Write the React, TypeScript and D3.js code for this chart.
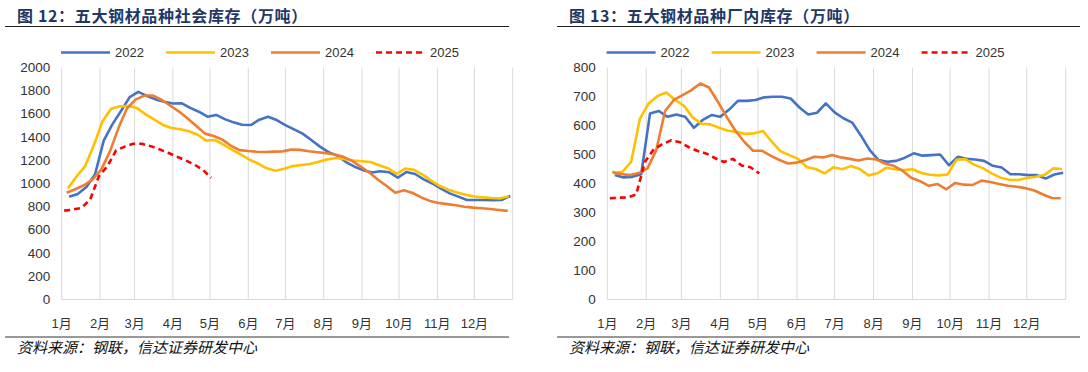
import React from "react";
import * as d3 from "d3";

// 月份刻度（日期轴，每月1日一条网格线）
const monthLabels = ["1月", "2月", "3月", "4月", "5月", "6月", "7月", "8月", "9月", "10月", "11月", "12月"];
const monthStartDays = [0, 31, 59, 90, 120, 151, 181, 212, 243, 273, 304, 334, 365];

const years = ["2022", "2023", "2024", "2025"];
// 每年第一期数据的日期（周五）
const firstDates = ["2022-01-07", "2023-01-06", "2024-01-05", "2025-01-03"];

// 图12 五大钢材品种社会库存（万吨）
const social2022 = [886, 910, 970, 1080, 1370, 1510, 1625, 1745, 1790, 1755, 1725, 1705, 1690, 1692, 1652, 1619, 1576, 1591, 1555, 1527, 1507, 1504, 1550, 1576, 1547, 1504, 1466, 1430, 1375, 1318, 1270, 1240, 1185, 1145, 1115, 1095, 1105, 1097, 1050, 1099, 1082, 1036, 1000, 956, 915, 887, 858, 858, 858, 855, 858, 892];
const social2023 = [958, 1060, 1150, 1330, 1535, 1645, 1665, 1668, 1650, 1595, 1550, 1505, 1478, 1468, 1450, 1420, 1370, 1375, 1335, 1290, 1250, 1205, 1172, 1131, 1110, 1128, 1150, 1160, 1168, 1188, 1208, 1220, 1210, 1198, 1192, 1186, 1158, 1132, 1082, 1128, 1118, 1076, 1025, 978, 946, 922, 902, 888, 880, 875, 872, 890];
const social2024 = [921, 950, 985, 1035, 1120, 1275, 1480, 1650, 1725, 1758, 1758, 1720, 1670, 1620, 1560, 1495, 1430, 1410, 1378, 1325, 1288, 1280, 1274, 1272, 1275, 1277, 1293, 1290, 1278, 1270, 1262, 1250, 1230, 1195, 1145, 1095, 1032, 978, 920, 942, 918, 880, 850, 832, 822, 813, 800, 792, 786, 780, 772, 764];
const social2025 = [766, 775, 790, 860, 1060, 1150, 1285, 1318, 1343, 1342, 1322, 1295, 1265, 1232, 1200, 1165, 1120, 1050];
const socialTicks = [0, 200, 400, 600, 800, 1000, 1200, 1400, 1600, 1800, 2000];

// 图13 五大钢材品种厂内库存（万吨）
const factory2022 = [429, 421, 423, 432, 641, 650, 630, 638, 630, 592, 619, 636, 630, 655, 685, 685, 688, 697, 699, 699, 693, 662, 638, 644, 676, 645, 625, 610, 565, 515, 481, 475, 478, 489, 504, 496, 498, 500, 463, 492, 485, 483, 478, 461, 455, 432, 432, 429, 429, 417, 431, 437];
const factory2023 = [435, 440, 475, 624, 676, 702, 714, 688, 668, 628, 606, 604, 592, 582, 578, 571, 573, 581, 544, 511, 498, 485, 456, 450, 435, 456, 449, 460, 450, 428, 435, 454, 449, 446, 449, 436, 430, 428, 431, 482, 484, 465, 453, 435, 420, 413, 412, 419, 423, 429, 452, 450];
const factory2024 = [440, 433, 429, 436, 452, 515, 650, 688, 705, 722, 745, 731, 682, 630, 582, 544, 513, 513, 496, 481, 469, 472, 481, 492, 490, 498, 490, 485, 479, 486, 483, 469, 461, 444, 420, 408, 392, 398, 380, 402, 396, 395, 410, 405, 398, 392, 389, 384, 376, 362, 350, 349];
const factory2025 = [349, 351, 352, 362, 475, 518, 536, 549, 542, 525, 512, 503, 487, 474, 485, 462, 456, 435];
const factoryTicks = [0, 100, 200, 300, 400, 500, 600, 700, 800];

const colors = ["#4472C4", "#FFC000", "#ED7D31", "#FF0000"];
const numFont = "'Liberation Sans', Arial, 'Noto Sans CJK SC', sans-serif";
const cjkFont = "'Noto Sans CJK SC', 'Liberation Sans', sans-serif";

function dayOfYear(s: string) {
  const d = new Date(s + "T00:00:00Z");
  const y0 = Date.UTC(d.getUTCFullYear(), 0, 1);
  return Math.round((d.getTime() - y0) / 86400000);
}

type PanelProps = {
  left: number;
  title: string;
  series: number[][];
  ticks: number[];
  x0: number;
  x1: number;
  ruleX0: number;
  ruleX1: number;
};

function Panel({ left, title, series, ticks, x0, x1, ruleX0, ruleX1 }: PanelProps) {
  const top = 67.5;
  const bottom = 299.5;
  const x = d3.scaleLinear().domain([0, 365]).range([x0, x1]);
  const y = d3.scaleLinear().domain([0, d3.max(ticks) as number]).range([bottom, top]);

  const line = (vals: number[], start: number) =>
    d3
      .line<number>()
      .x((_, i) => x(start + 7 * i))
      .y((v) => y(v))(vals) as string;

  const legendX = x0 - 0.7;
  return (
    <g>
      <text
        x={left}
        y={21.5}
        fontFamily={cjkFont}
        fontWeight="bold"
        fontSize={16}
        letterSpacing={0.65}
        fill="#1F3864"
      >
        {title}
      </text>
      <line x1={ruleX0} x2={ruleX1} y1={26.5} y2={26.5} stroke="#222" strokeWidth={1} />

      {years.map((yr, i) => {
        const lx = legendX + i * 105;
        return (
          <g key={yr}>
            <line
              x1={lx}
              x2={lx + 49}
              y1={52.5}
              y2={52.5}
              stroke={colors[i]}
              strokeWidth={2.6}
              strokeDasharray={i === 3 ? "6,4" : undefined}
            />
            <text x={lx + 54} y={52.5} dominantBaseline="central" fontFamily={numFont} fontSize={13} fill="#333">
              {yr}
            </text>
          </g>
        );
      })}

      {monthStartDays.map((d) => (
        <line key={d} x1={x(d)} x2={x(d)} y1={top} y2={bottom} stroke="#D9D9D9" strokeWidth={1} />
      ))}
      <line x1={x0} x2={x1} y1={bottom} y2={bottom} stroke="#D9D9D9" strokeWidth={1} />

      {ticks.map((t) => (
        <text
          key={t}
          x={x0 - 11.5}
          y={y(t)}
          textAnchor="end"
          dominantBaseline="central"
          fontFamily={numFont}
          fontSize={13.5}
          fill="#333"
        >
          {t}
        </text>
      ))}

      {monthLabels.map((m, i) => (
        <text
          key={m}
          x={x(monthStartDays[i])}
          y={323}
          textAnchor="middle"
          dominantBaseline="central"
          fontFamily={numFont}
          fontSize={13}
          fill="#333"
        >
          {m}
        </text>
      ))}

      {series.map((vals, i) => (
        <path
          key={years[i]}
          d={line(vals, dayOfYear(firstDates[i]))}
          fill="none"
          stroke={colors[i]}
          strokeWidth={2.6}
          strokeLinejoin="round"
          strokeDasharray={i === 3 ? "6,4" : undefined}
        />
      ))}

      <line x1={ruleX0} x2={ruleX1} y1={337} y2={337} stroke="#333" strokeWidth={1} />
      <text x={left} y={353} fontFamily={cjkFont} fontStyle="italic" fontSize={15} fill="#111">
        资料来源：钢联，信达证券研发中心
      </text>
    </g>
  );
}

export default function App() {
  return (
    <svg
      width={1088}
      height={372}
      style={{ position: "absolute", left: 0, top: 0, background: "#fff" }}
    >
      <Panel
        left={17}
        title="图 12：五大钢材品种社会库存（万吨）"
        series={[social2022, social2023, social2024, social2025]}
        ticks={socialTicks}
        x0={61.7}
        x1={512.7}
        ruleX0={5}
        ruleX1={509}
      />
      <Panel
        left={569}
        title="图 13：五大钢材品种厂内库存（万吨）"
        series={[factory2022, factory2023, factory2024, factory2025]}
        ticks={factoryTicks}
        x0={607.3}
        x1={1065.7}
        ruleX0={557}
        ruleX1={1080}
      />
    </svg>
  );
}
